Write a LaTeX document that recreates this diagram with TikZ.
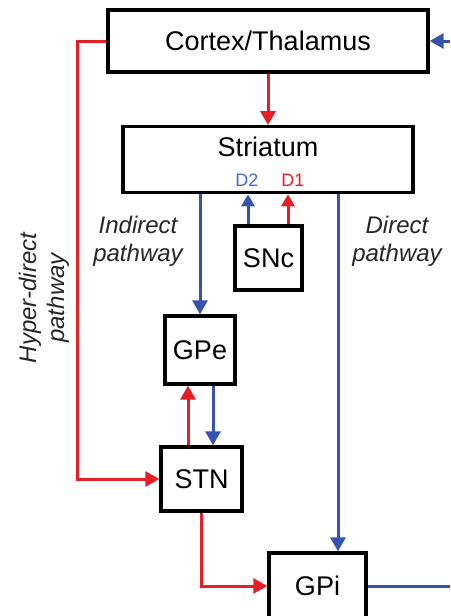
\documentclass[tikz,border=0pt]{standalone}
\usepackage{fontspec}
\setmainfont{Liberation Sans}
\usetikzlibrary{arrows.meta,calc}
\definecolor{myred}{RGB}{232,30,38}
\definecolor{myblue}{RGB}{52,84,176}
\definecolor{dblue}{RGB}{70,105,205}
\tikzset{
  box/.style={draw=black,line width=3.3pt,fill=white,inner sep=0pt,font=\fontsize{27}{30}\selectfont},
  redarr/.style={draw=myred,line width=3pt,-{Triangle[length=14pt,width=15pt]}},
  bluearr/.style={draw=myblue,line width=3pt,-{Triangle[length=14pt,width=15pt]}},
  redline/.style={draw=myred,line width=3pt},
  blueline/.style={draw=myblue,line width=3pt},
  lbl/.style={font=\fontsize{24}{28}\selectfont\itshape,align=center,text=black!85},
  dlbl/.style={font=\fontsize{18}{20}\selectfont}
}
\begin{document}
\begin{tikzpicture}[x=1pt,y=-1pt]
\useasboundingbox (0,0) rectangle (450,616);
% boxes
\node[box,minimum width=320pt,minimum height=62pt] (cortex) at (268,41) {Cortex/Thalamus};
\node[box,minimum width=290pt,minimum height=66pt,anchor=north] (striatum) at (268,125) {};
\node[font=\fontsize{27}{30}\selectfont] (strlabel) at (268,147) {Striatum};
\node[box,minimum width=67pt,minimum height=64pt] (snc) at (268.5,258) {SNc};
\node[box,minimum width=70pt,minimum height=68pt] (gpe) at (200,350) {GPe};
\node[box,minimum width=81pt,minimum height=64pt] (stn) at (201.5,479) {STN};
\node[box,minimum width=97pt,minimum height=66pt] (gpi) at (317.5,586) {GPi};
% labels
\node[dlbl,text=dblue] (d2) at (247,180) {D2};
\node[dlbl,text=myred] (d1) at (293,180) {D1};
\node[lbl] (indirect) at (138,241) {Indirect\\pathway};
\node[lbl] (direct) at (397,241) {Direct\\pathway};
\node[lbl,rotate=90] (hyper) at (44,298) {Hyper-direct\\pathway};
% free ends
\coordinate (inR) at (450,41);
\coordinate (hd) at (77,41);
\coordinate (outR) at (450,586);
% connectors
\draw[redarr] (cortex.south) -- (striatum.north);
\draw[bluearr] (inR) -- (cortex.east);
\draw[redarr] (cortex.west) -- (hd) |- (stn.west);
\draw[bluearr] (gpe.north |- striatum.south) -- (gpe.north);
\draw[bluearr] ([xshift=20.5pt]gpi.north |- striatum.south) -- ([xshift=20.5pt]gpi.north);
\draw[bluearr,-{Triangle[length=12pt,width=13pt]}] ([xshift=-20.5pt]snc.north) -- ([xshift=-20.5pt]snc.north |- striatum.south);
\draw[redarr,-{Triangle[length=12pt,width=13pt]}] ([xshift=19.5pt]snc.north) -- ([xshift=19.5pt]snc.north |- striatum.south);
\draw[redarr] ([xshift=-12pt]gpe.south |- stn.north) -- ([xshift=-12pt]gpe.south);
\draw[bluearr] ([xshift=13pt]gpe.south) -- ([xshift=13pt]gpe.south |- stn.north);
\draw[redarr] (stn.south) |- (gpi.west);
\draw[blueline] (gpi.east) -- (outR);
\end{tikzpicture}
\end{document}
